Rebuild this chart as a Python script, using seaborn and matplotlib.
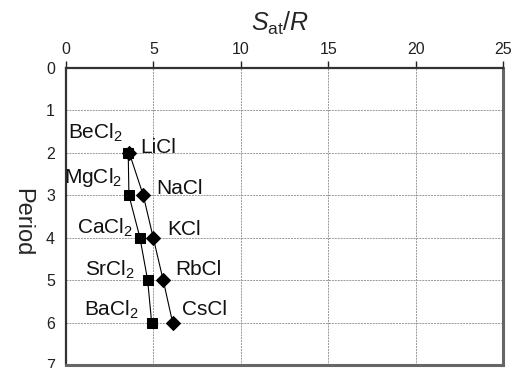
import seaborn as sns
import matplotlib.pyplot as plt

# data
period = [2, 3, 4, 5, 6]
alk_earth = ['BeCl$_2$', 'MgCl$_2$', 'CaCl$_2$', 'SrCl$_2$', 'BaCl$_2$']
alk_earth_s = [3.56, 3.6, 4.23, 4.67, 4.9]
alkali = ['LiCl', 'NaCl', 'KCl', 'RbCl', 'CsCl']
alkali_s = [3.62, 4.42, 4.99, 5.56, 6.1]

# where the labels sit (data coords, baseline)
alk_earth_lab = [(3.27, 1.67), (3.24, 2.72), (3.85, 3.91), (3.94, 4.89), (4.19, 5.83)]
alkali_lab = [(4.23, 2.0), (5.18, 2.97), (5.79, 3.94), (6.27, 4.89), (6.61, 5.83)]

sns.set_style('white')
plt.rcParams['font.family'] = ['Liberation Sans', 'DejaVu Sans']
plt.rcParams['mathtext.fontset'] = 'custom'
plt.rcParams['mathtext.rm'] = 'Liberation Sans'
plt.rcParams['mathtext.it'] = 'Liberation Sans:italic'

fig = plt.figure(figsize=(5.12, 3.68), dpi=100)
ax = fig.add_axes([66 / 512, 3 / 368, 437 / 512, 297 / 368])

sns.lineplot(x=alk_earth_s, y=period, sort=False, color='black', lw=0.8,
             marker='s', markersize=7.8, markeredgecolor='black', ax=ax)
sns.lineplot(x=alkali_s, y=period, sort=False, color='black', lw=0.8,
             marker='D', markersize=7, markeredgecolor='black', ax=ax)

for name, (x, y) in zip(alk_earth, alk_earth_lab):
    ax.text(x, y, name, ha='right', va='baseline', fontsize=15, color='#111')
for name, (x, y) in zip(alkali, alkali_lab):
    ax.text(x, y, name, ha='left', va='baseline', fontsize=15, color='#111')

ax.set_xlim(0, 25)
ax.set_ylim(7, 0)
ax.set_xticks([0, 5, 10, 15, 20, 25])
ax.set_yticks(range(8))
ax.xaxis.tick_top()
ax.tick_params(direction='out', length=5, width=1, labelsize=11.5, pad=3,
               colors='#222')

ax.grid(True, linestyle=(0, (2, 1)), color='#999', lw=0.7)

ax.set_xlabel(r'$S_{\mathrm{at}}/R$', fontsize=18)
ax.xaxis.set_label_position('top')
ax.xaxis.set_label_coords(0.49, 1.15)
ax.xaxis.label.set_va('center')
ax.set_ylabel('Period', fontsize=17, rotation=-90)
ax.yaxis.set_label_coords(-0.101, 0.48)
ax.yaxis.label.set_va('center')
ax.yaxis.label.set_ha('center')

for side in ['top', 'left']:
    ax.spines[side].set_color('#333')
    ax.spines[side].set_linewidth(1.6)
for side in ['right', 'bottom']:
    ax.spines[side].set_color('#666')
    ax.spines[side].set_linewidth(2.2)
    ax.spines[side].set_visible(True)

fig.savefig('out.png', dpi=100)
